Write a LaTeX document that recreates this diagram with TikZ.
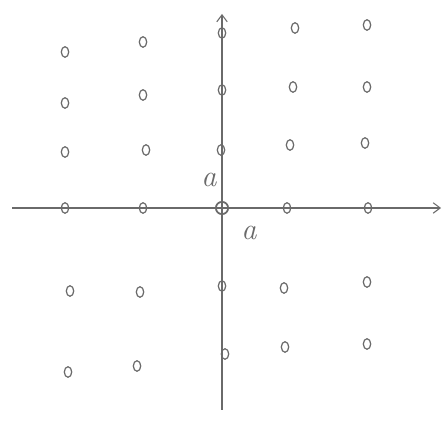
\documentclass[tikz,border=0pt]{standalone}
\usepackage{xcolor}
\usepackage{tikz}
\usetikzlibrary{arrows.meta,shapes.geometric}
\definecolor{pencil}{HTML}{6A6A6A}

\begin{document}
\begin{tikzpicture}[
    x=0.02cm, y=-0.02cm,
    latpt/.style={ellipse, draw=pencil, line width=0.7pt, minimum width=4.2pt, minimum height=6pt, inner sep=0pt},
    axisline/.style={draw=pencil, line width=0.6pt, -{Straight Barb[length=4pt,width=6pt]}},
    handlab/.style={text=pencil, font=\LARGE\itshape, inner sep=0pt}
]
\useasboundingbox (0,0) rectangle (446,428);
% axes
\coordinate (xs) at (12,208);
\coordinate (xe) at (441,208);
\coordinate (ys) at (222,410);
\coordinate (ye) at (222,14);
\draw[axisline] (xs) -- (xe);
\draw[axisline] (ys) -- (ye);
% lattice points
\foreach \px/\py/\nm in {65/52/r1c1, 143/42/r1c2, 222/33/r1c3, 295/28/r1c4, 367/25/r1c5,
    65/103/r2c1, 143/95/r2c2, 222/90/r2c3, 293/87/r2c4, 367/87/r2c5,
    65/152/r3c1, 146/150/r3c2, 221/150/r3c3, 290/145/r3c4, 365/143/r3c5,
    65/208/r4c1, 143/208/r4c2, 287/208/r4c4, 368/208/r4c5,
    70/291/r5c1, 140/292/r5c2, 222/286/r5c3, 284/288/r5c4, 367/282/r5c5,
    68/372/r6c1, 137/366/r6c2, 225/354/r6c3, 285/347/r6c4, 367/344/r6c5}
    \node[latpt] (\nm) at (\px,\py) {};
\node[latpt, minimum width=7pt, minimum height=7pt, line width=1pt] (origin) at (222,208) {};
% spacing labels
\node[handlab] (avert) at (209,180) {a};
\node[handlab] (ahoriz) at (249,233) {a};
\end{tikzpicture}
\end{document}
